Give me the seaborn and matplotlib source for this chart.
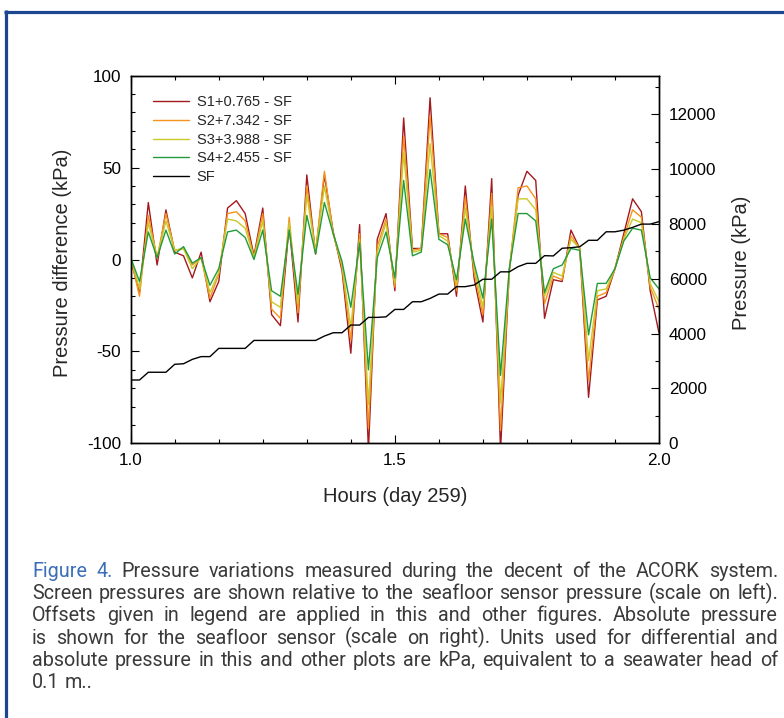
import matplotlib
matplotlib.use("Agg")
import matplotlib.pyplot as plt
import numpy as np
import pandas as pd
import seaborn as sns
from matplotlib.lines import Line2D
from matplotlib.ticker import MultipleLocator, FixedLocator

# ---------------- data (one sample per minute, hour 1 to 2 of day 259) ----------------
minutes = list(range(61))
hours = [1 + m / 60 for m in minutes]

s1 = [0, -18, 31, -3, 27, 4, 2, -10, 4, -23, -12, 28, 32, 25, 2, 28, -30, -36, 19, -34,
      46, 3, 46, 15, -6, -51, 19, -104, 11, 25, -17, 77, 6, 6, 88, 14, 14, -20, 40, -10,
      -34, 44, -104, -6, 35, 48, 43, -32, -11, -12, 16, 6, -75, -22, -20, -5, 14, 33, 26, -17,
      -40]
s2 = [1, -20, 24, 1, 25, 5, 6, -3, 1, -21, -8, 25, 26, 21, 1, 25, -27, -32, 23, -29,
      40, 4, 48, 14, -4, -44, 14, -92, 7, 22, -15, 67, 5, 6, 78, 14, 12, -17, 34, -7,
      -30, 36, -93, -6, 39, 40, 33, -24, -9, -11, 13, 6, -66, -20, -18, -5, 12, 27, 23, -15,
      -27]
s3 = [1, -16, 20, 1, 21, 5, 6, -5, 1, -18, -7, 22, 21, 17, 1, 21, -23, -26, 20, -24,
      35, 4, 40, 14, -3, -37, 11, -79, 4, 20, -13, 58, 4, 5, 63, 13, 10, -14, 28, -4,
      -26, 29, -78, -6, 33, 33, 27, -20, -7, -9, 11, 6, -55, -17, -16, -5, 11, 22, 20, -13,
      -23]
s4 = [1, -12, 15, 1, 16, 3, 7, -2, 1, -14, -5, 15, 16, 12, 0, 16, -17, -20, 16, -19,
      24, 3, 31, 14, -1, -26, 9, -60, 1, 15, -10, 43, 2, 4, 49, 11, 8, -11, 22, -2,
      -21, 22, -63, -5, 25, 25, 21, -18, -5, -3, 6, 5, -41, -13, -13, -5, 10, 17, 16, -10,
      -16]
sf = [2307, 2307, 2590, 2590, 2590, 2880, 2900, 3060, 3160, 3160, 3460, 3460, 3460, 3460,
      3750, 3750, 3750, 3750, 3750, 3750, 3750, 3750, 3910, 4030, 4030, 4310, 4310, 4590,
      4590, 4610, 4880, 4880, 5160, 5160, 5280, 5440, 5440, 5710, 5710, 5770, 5980, 5980,
      6250, 6250, 6440, 6560, 6560, 6840, 6830, 7110, 7130, 7165, 7400, 7400, 7710, 7710,
      7770, 7870, 7990, 7990, 8080]

labels = ["S1+0.765 - SF", "S2+7.342 - SF", "S3+3.988 - SF", "S4+2.455 - SF"]
colors = ["#a3191f", "#f6921e", "#c9c92a", "#239b3c"]
sf_label = "SF"

x_major = [1.0, 1.5, 2.0]
y_left_major = [-100, -50, 0, 50, 100]
y_right_major = [0, 2000, 4000, 6000, 8000, 10000, 12000]

caption_lines = [
    "Figure 4. Pressure variations measured during the decent of the ACORK system.",
    "Screen pressures are shown relative to the seafloor sensor pressure (scale on left).",
    "Offsets given in legend are applied in this and other figures.  Absolute pressure",
    "is shown for the seafloor sensor (scale on right). Units used for differential and",
    "absolute pressure in this and other plots are kPa, equivalent to a seawater head of",
    "0.1 m..",
]

# ---------------- figure ----------------
sns.set_style("ticks")
plt.rcParams['font.family'] = ['Liberation Sans', 'DejaVu Sans']
plt.rcParams['axes.unicode_minus'] = False

W, H = 784, 718
fig = plt.figure(figsize=(W / 100, H / 100), dpi=100)
fig.patch.set_facecolor("white")

axL, axR, axT, axB = 130.7, 659.0, 75.7, 443.3
ax = fig.add_axes([axL / W, 1 - axB / H, (axR - axL) / W, (axB - axT) / H])

df = pd.DataFrame({"hours": hours, labels[0]: s1, labels[1]: s2, labels[2]: s3, labels[3]: s4})
long = df.melt(id_vars="hours", value_vars=labels, var_name="series", value_name="diff")
sns.lineplot(data=long, x="hours", y="diff", hue="series", hue_order=labels,
             palette=dict(zip(labels, colors)), lw=1.0, legend=False, ax=ax)

ax2 = ax.twinx()
sns.lineplot(x=hours, y=sf, color="black", lw=1.0, ax=ax2, legend=False)

ax.set_xlim(1.0, 2.0)
ax.set_ylim(-100, 100)
ax2.set_ylim(0, 13400)

ax.xaxis.set_major_locator(FixedLocator(x_major))
ax.xaxis.set_minor_locator(FixedLocator([1 + k / 12 for k in range(13)]))
ax.yaxis.set_major_locator(FixedLocator(y_left_major))
ax.yaxis.set_minor_locator(MultipleLocator(10))
ax2.yaxis.set_major_locator(FixedLocator(y_right_major))
ax2.yaxis.set_minor_locator(MultipleLocator(1000))
ax.set_xticklabels(["%.1f" % v for v in x_major])
ax.set_yticklabels([str(v) for v in y_left_major])

for a in (ax, ax2):
    for s in a.spines.values():
        s.set_color("black")
        s.set_linewidth(1.0)
ax.tick_params(axis="both", which="both", direction="in", colors="black",
               labelsize=12.3, pad=7, width=0.8)
ax.tick_params(which="major", length=6)
ax.tick_params(which="minor", length=3)
ax.tick_params(axis="x", which="both", top=True, bottom=True)
ax.tick_params(axis="y", which="both", left=True, right=False)
ax2.tick_params(axis="y", which="both", direction="in", right=True, left=False,
                labelsize=12.3, pad=7, width=0.8, colors="black")
ax2.tick_params(which="major", length=6)
ax2.tick_params(which="minor", length=3)

ax.set_xlabel("Hours (day 259)", fontsize=14.5, va="center")
ax.xaxis.set_label_coords(0.5, (axB - 497) / (axB - axT))
ax.set_ylabel("Pressure difference (kPa)", fontsize=14.5, va="center")
ax.yaxis.set_label_coords((62 - axL) / (axR - axL), 0.49)
ax2.set_ylabel("Pressure (kPa)", fontsize=14.5, va="center", rotation=90)
ax2.yaxis.set_label_coords((742 - axL) / (axR - axL), 0.49)

handles = [Line2D([], [], color=c, lw=1.0) for c in colors] + [Line2D([], [], color="black", lw=1.0)]
leg = ax2.legend(handles, labels + [sf_label], loc="upper left",
                 bbox_to_anchor=(153 / W, 1 - 95 / H), bbox_transform=fig.transFigure,
                 frameon=False, fontsize=10.5, handlelength=2.5, handletextpad=0.5,
                 labelspacing=0.33, borderpad=0, borderaxespad=0)

# ---------------- frame border ----------------
blue = "#1c468f"
fig.add_artist(Line2D([4 / W, 1], [1 - 11.5 / H, 1 - 11.5 / H], color=blue, lw=2.3,
                      transform=fig.transFigure, solid_capstyle="butt"))
fig.add_artist(Line2D([5.5 / W, 5.5 / W], [0, 1 - 10 / H], color=blue, lw=2.3,
                      transform=fig.transFigure, solid_capstyle="butt"))

# ---------------- caption (justified) ----------------
renderer = fig.canvas.get_renderer()
cap_font = dict(family=["Roboto", "DejaVu Sans"], fontweight="normal", fontsize=14.2)
x0, x1 = 32, 778
base0, step = 577, 22.2
for k, line in enumerate(caption_lines):
    words = line.split()
    texts = []
    for j, w in enumerate(words):
        col = "#3b6eb6" if (k == 0 and j < 2) else "#3a3a3a"
        t = fig.text(0, 0, w, color=col, va="baseline", ha="left", **cap_font)
        texts.append(t)
    widths = [t.get_window_extent(renderer).width for t in texts]
    space = texts[0].get_fontsize() * 100 / 72 * 0.25
    if k < len(caption_lines) - 1 and len(words) > 1:
        gap = (x1 - x0 - sum(widths)) / (len(words) - 1)
    else:
        gap = space
    x = x0
    y = base0 + k * step
    for t, wd in zip(texts, widths):
        t.set_position((x / W, 1 - y / H))
        x += wd + gap

fig.savefig("out.png", dpi=100, facecolor="white")
